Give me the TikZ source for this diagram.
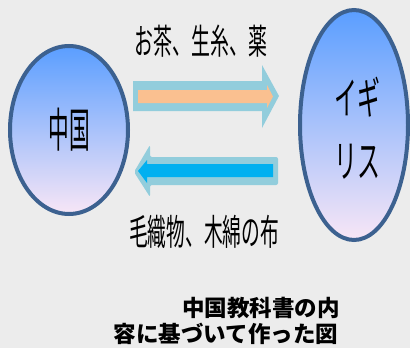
\documentclass[tikz,border=0pt]{standalone}
\usepackage{fontspec}
\newfontfamily\cjk{Noto Sans CJK JP}
\usetikzlibrary{shapes.geometric}
\definecolor{bg}{HTML}{ECECEC}
\definecolor{ringc}{HTML}{3C6190}
\definecolor{topc}{HTML}{5A9EFF}
\definecolor{midc}{HTML}{7CBAFF}
\definecolor{botc}{HTML}{F8E6F6}
\definecolor{arrowout}{HTML}{92CDDC}
\definecolor{orangein}{HTML}{FAC090}
\definecolor{bluein}{HTML}{00B0F0}
\tikzset{
  country/.style={ellipse, draw=ringc, line width=4pt, inner sep=0pt,
    top color=topc, middle color=midc, bottom color=botc},
  thinlabel/.style={inner sep=0pt, text=black},
  notelabel/.style={inner sep=0pt, text=black, font=\cjk\bfseries\fontsize{22.5}{24}\selectfont}
}
\begin{document}
\begin{tikzpicture}[x=1pt,y=-1pt]
\useasboundingbox (0,0) rectangle (410,348);
\fill[bg] (0,0) rectangle (410,348);
% countries
\node[country, minimum width=118pt, minimum height=168pt] (china) at (69,130)
  {\cjk\fontsize{47}{47}\selectfont\scalebox{0.44}[1]{中国}};
\node[country, minimum width=108pt, minimum height=230pt] (uk) at (354,125) {};
\node[thinlabel, align=center, font=\cjk\fontsize{44}{63}\selectfont] (uktext) at (357,128)
  {\scalebox{0.52}[1]{イギ}\\\scalebox{0.52}[1]{リス}};
% top arrow (China -> UK)
\fill[arrowout] (133,81) -- (262,81) -- (262,65) -- (279,96) -- (262,128) -- (262,111) -- (133,111) -- cycle;
\fill[orangein] (138,90) -- (267,90) -- (267,85) -- (273,96.5) -- (267,108) -- (267,103) -- (138,103) -- cycle;
% bottom arrow (UK -> China)
\fill[arrowout, rounded corners=2pt] (278,157) -- (150,157) -- (150,145) -- (134,172) -- (150,197) -- (150,185) -- (278,185) -- cycle;
\fill[bluein] (273,164) -- (147,164) -- (147,160) -- (138,171) -- (147,183) -- (147,177) -- (273,177) -- cycle;
% labels
\node[thinlabel] (goods1) at (201,41)
  {\cjk\fontsize{35}{35}\selectfont\scalebox{0.54}[1]{お茶、生糸、薬}};
\node[thinlabel] (goods2) at (204,232)
  {\cjk\fontsize{36}{36}\selectfont\scalebox{0.52}[1]{毛織物、木綿の布}};
\node[notelabel] (note1) at (261,308) {中国教科書の内};
\node[notelabel] (note2) at (226,334) {容に基づいて作った図};
\end{tikzpicture}
\end{document}
